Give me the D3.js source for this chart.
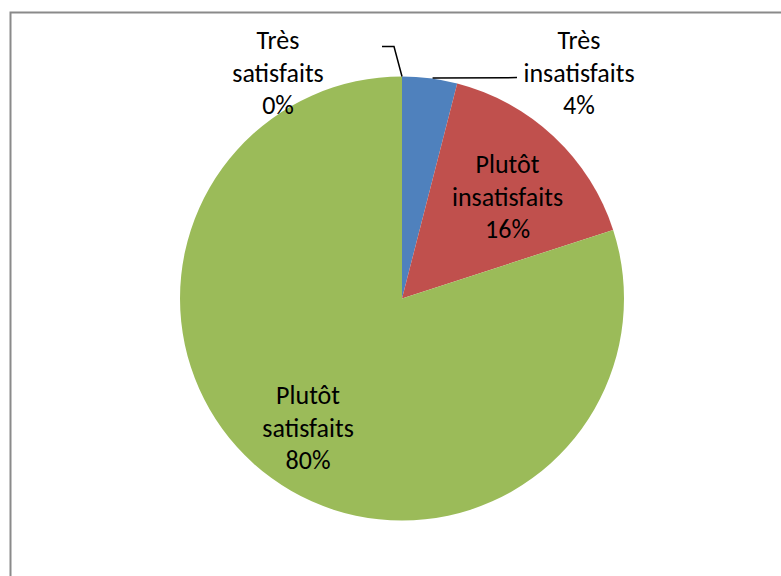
<!DOCTYPE html>
<html>
<head>
<meta charset="utf-8">
<script src="https://cdn.jsdelivr.net/npm/d3@7"></script>
<style>
  body { margin: 0; background: #fff; }
  svg text { font-family: Carlito, Lato, "Noto Sans", sans-serif; font-size: 26px; fill: #000; }
</style>
</head>
<body>
<svg id="chart" width="781" height="576"></svg>
<script>
// data
var categories = ["Très insatisfaits", "Plutôt insatisfaits", "Plutôt satisfaits", "Très satisfaits"];
var percents = [4, 16, 80, 0];
var colors = ["#4F81BD", "#C0504D", "#9BBB59", "#8064A2"];
// label lines (text split for wrapping)
var labelLines = [["Très", "insatisfaits", "4%"], ["Plutôt", "insatisfaits", "16%"], ["Plutôt", "satisfaits", "80%"], ["Très", "satisfaits", "0%"]];

var width = 781, height = 576;
var cx = 402, cy = 298.5, radius = 222;
var lineH = 32.5;

var svg = d3.select("#chart");

// chart frame (runs past the right and bottom of the view)
svg.append("rect")
  .attr("x", 10.5).attr("y", 12.5)
  .attr("width", 900).attr("height", 700)
  .attr("fill", "none")
  .attr("stroke", "#8a8a8a")
  .attr("stroke-width", 2);

var data = categories.map(function(c, i) { return {name: c, value: percents[i], lines: labelLines[i], color: colors[i]}; });

var pie = d3.pie().sort(null).value(function(d) { return d.value; });
var arcs = pie(data);

var arc = d3.arc().innerRadius(0).outerRadius(radius);

var g = svg.append("g").attr("transform", "translate(" + cx + "," + cy + ")");

g.selectAll("path.slice")
  .data(arcs.filter(function(d) { return d.value > 0; }))
  .enter()
  .append("path")
  .attr("class", "slice")
  .attr("d", arc)
  .attr("fill", function(d) { return d.data.color; });

// where the labels go: inside ones along the radius, outside ones up top with leader lines
var labelRadius = [null, 0.66, 0.72, null];
var labelShift = [0, 0.05, 0, 0];
var outsidePos = [[177, -226], null, null, [-124, -226]];

function labelCenter(d, i) {
  if (labelRadius[i] != null) {
    var a = (d.startAngle + d.endAngle) / 2 + labelShift[i];
    var r = radius * labelRadius[i];
    return [Math.sin(a) * r, -Math.cos(a) * r];
  }
  return outsidePos[i];
}

arcs.forEach(function(d, i) {
  var c = labelCenter(d, i);
  var t = g.append("text").attr("text-anchor", "middle");
  d.data.lines.forEach(function(line, j) {
    t.append("tspan")
      .attr("x", c[0])
      .attr("y", c[1] + (j - 1) * lineH + 9)
      .text(line);
  });
});

// leader lines
var line = d3.line();
// Très insatisfaits: from the blue slice edge to its label
var blue = arcs[0];
var blueA = blue.startAngle + (blue.endAngle - blue.startAngle) * 0.55;
var bp = [Math.sin(blueA) * radius, -Math.cos(blueA) * radius];
g.append("path")
  .attr("d", line([[bp[0], bp[1] - 0.5], [115, bp[1] - 1]]))
  .attr("fill", "none").attr("stroke", "#000").attr("stroke-width", 1.5);

// Très satisfaits: zero-size slice at the top
var top0 = arcs[3];
var tp = [Math.sin(top0.startAngle) * radius, -Math.cos(top0.startAngle) * radius];
g.append("path")
  .attr("d", line([[tp[0], tp[1]], [tp[0] - 8, tp[1] - 30], [tp[0] - 20, tp[1] - 30]]))
  .attr("fill", "none").attr("stroke", "#000").attr("stroke-width", 1.5);
</script>
</body>
</html>
